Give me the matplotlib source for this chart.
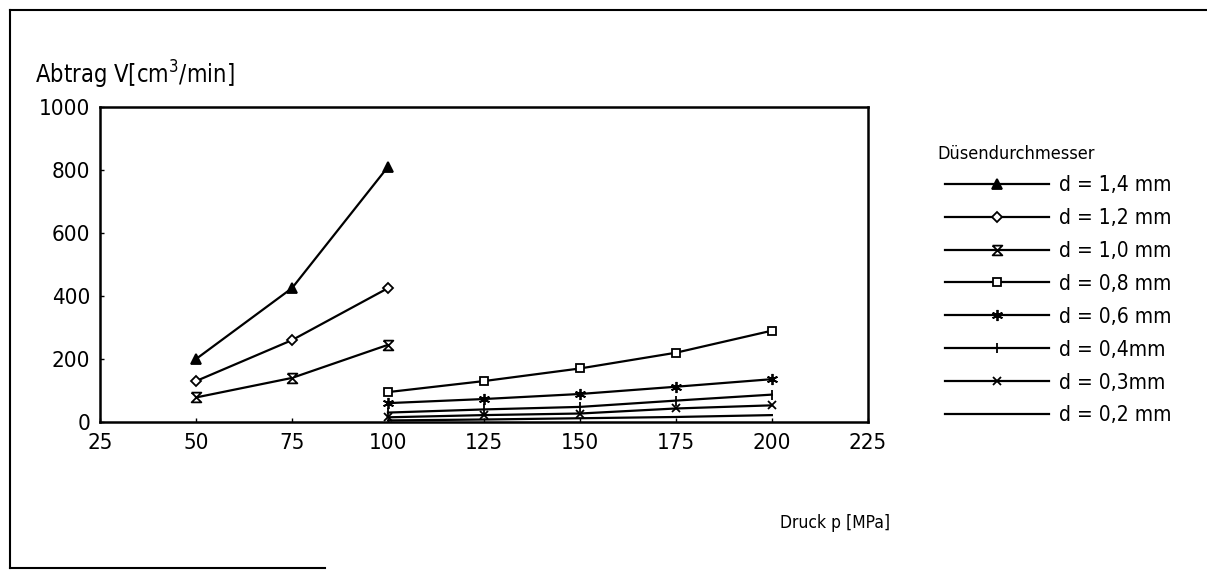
import numpy as np
import matplotlib
matplotlib.use("Agg")
import matplotlib.pyplot as plt
from matplotlib.lines import Line2D

# Druck p [MPa]
p_high = [50, 75, 100]
p_low = [100, 125, 150, 175, 200]

# Abtrag V [cm^3/min]
v_14 = [200, 425, 810]
v_12 = [130, 260, 425]
v_10 = [78, 140, 245]
v_08 = [95, 130, 170, 220, 290]
v_06 = [60, 73, 89, 112, 136]
v_04 = [30, 40, 48, 68, 87]
v_03 = [15, 22, 27, 43, 53]
v_02 = [5, 8, 12, 16, 22]

labels = ["d = 1,4 mm", "d = 1,2 mm", "d = 1,0 mm", "d = 0,8 mm",
          "d = 0,6 mm", "d = 0,4mm", "d = 0,3mm", "d = 0,2 mm"]

hourglass = [(-1, 1), (1, 1), (-1, -1), (1, -1), (-1, 1)]

series = [
    (p_high, v_14, dict(marker="^", mfc="black", ms=7)),
    (p_high, v_12, dict(marker="D", mfc="white", ms=5)),
    (p_high, v_10, dict(marker=hourglass, mfc="white", ms=7)),
    (p_low, v_08, dict(marker="s", mfc="white", ms=5.5)),
    (p_low, v_06, dict(marker=(6, 2, 0), ms=8)),
    (p_low, v_04, dict(marker="|", ms=7)),
    (p_low, v_03, dict(marker="x", ms=6)),
    (p_low, v_02, dict(marker=None)),
]

plt.rcParams["font.family"] = ["DejaVu Sans"]
plt.rcParams["font.stretch"] = "condensed"

fig = plt.figure(figsize=(12.07, 5.70), dpi=100)
ax = fig.add_axes([0.0829, 0.2596, 0.6361, 0.5527])

for (xs, ys, st), lab in zip(series, labels):
    ax.plot(xs, ys, color="black", lw=1.6, mec="black", mew=1.3, label=lab, **st)

ax.set_xlim(25, 225)
ax.set_ylim(0, 1000)
ax.set_xticks(range(25, 226, 25))
ax.set_yticks(range(0, 1001, 200))
ax.tick_params(direction="in", length=3, width=1, labelsize=16)
ax.tick_params(axis="x", pad=8)
ax.tick_params(axis="y", pad=7)
for sp in ax.spines.values():
    sp.set_linewidth(1.8)

fig.text(35 / 1207, 1 - 75 / 570, "Abtrag V[cm$^3$/min]", fontsize=17,
         ha="left", va="center", fontstretch="condensed")
fig.text(890 / 1207, 1 - 523 / 570, "Druck p [MPa]", fontsize=12.5,
         ha="right", va="center", fontstretch="condensed")
fig.text(937 / 1207, 1 - 154 / 570, "Düsendurchmesser", fontsize=13,
         ha="left", va="center", fontstretch="condensed")

leg = ax.legend(loc="upper left", bbox_to_anchor=(945 / 1207, 1 - 175 / 570),
                bbox_transform=fig.transFigure, frameon=False, fontsize=15,
                handlelength=5.0, handletextpad=0.45, labelspacing=0.62,
                borderaxespad=0, borderpad=0)

# outer frame of the scanned page
frame = [((10, 10), (1207, 10)), ((10, 10), (10, 568)), ((10, 568), (325, 568))]
for (x0, y0), (x1, y1) in frame:
    fig.add_artist(Line2D([x0 / 1207, x1 / 1207], [1 - y0 / 570, 1 - y1 / 570],
                          transform=fig.transFigure, color="black", lw=1.5))

fig.savefig("out.png", dpi=100)
